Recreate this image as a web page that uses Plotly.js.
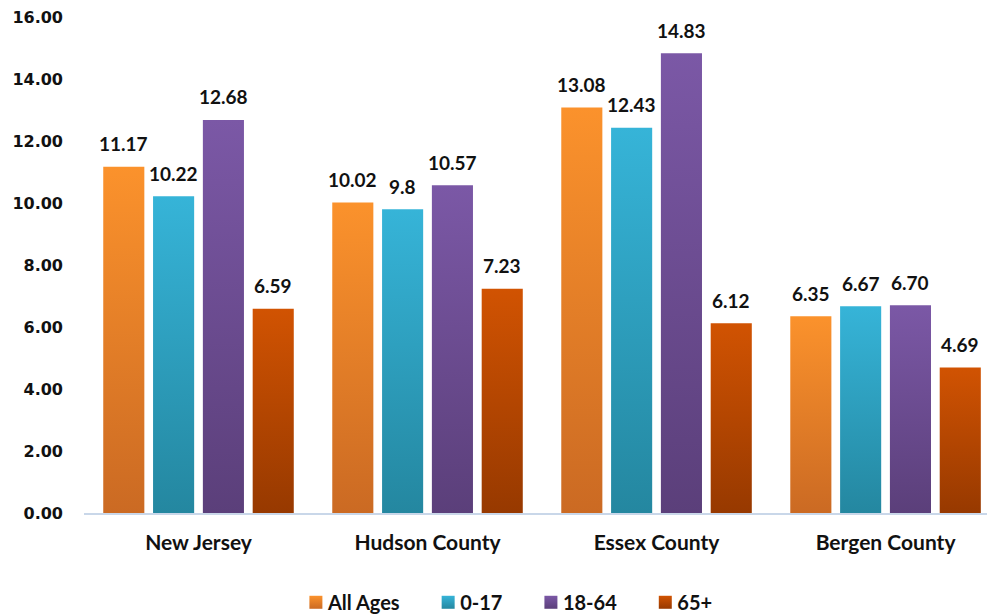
<!DOCTYPE html>
<html>
<head>
<meta charset="utf-8">
<script src="https://cdn.plot.ly/plotly-3.0.1.min.js"></script>
<style>html,body{margin:0;padding:0;background:#fff;}#chart{width:987px;height:616px;}</style>
</head>
<body>
<div id="chart"></div>
<script>
const categories = ["New Jersey", "Hudson County", "Essex County", "Bergen County"];
const seriesNames = ["All Ages", "0-17", "18-64", "65+"];
const allAges = [11.17, 10.02, 13.08, 6.35];
const age0to17 = [10.22, 9.8, 12.43, 6.67];
const age18to64 = [12.68, 10.57, 14.83, 6.70];
const age65plus = [6.59, 7.23, 6.12, 4.69];
const labelsAllAges = ["11.17", "10.02", "13.08", "6.35"];
const labels0to17 = ["10.22", "9.8", "12.43", "6.67"];
const labels18to64 = ["12.68", "10.57", "14.83", "6.70"];
const labels65plus = ["6.59", "7.23", "6.12", "4.69"];
const yTicks = [0, 2, 4, 6, 8, 10, 12, 14, 16];

const seriesValues = [allAges, age0to17, age18to64, age65plus];
const seriesLabels = [labelsAllAges, labels0to17, labels18to64, labels65plus];
const topColors = ["#FB922C", "#36B4D8", "#7B58A6", "#D15302"];
const bottomColors = ["#CB6A23", "#2487A0", "#5B3F7A", "#973900"];

const bargap = 0.13, bargroupgap = 0.175;
const slot = (1 - bargap) / seriesNames.length;

const traces = seriesNames.map((n, i) => ({
  type: "bar",
  name: n,
  x: categories,
  y: seriesValues[i],
  marker: {color: topColors[i], line: {width: 0}},
  hoverinfo: "skip"
}));

const annotations = [];
seriesNames.forEach((n, i) => {
  categories.forEach((c, j) => {
    annotations.push({
      x: j + (i - 1.5) * slot,
      y: seriesValues[i][j],
      xref: "x", yref: "y",
      text: seriesLabels[i][j],
      showarrow: false,
      yanchor: "middle",
      yshift: 23,
      font: {family: "Lato, 'Open Sans', sans-serif", size: 19, color: "#111", weight: "bold"}
    });
  });
});

const layout = {
  width: 987, height: 616,
  margin: {l: 84, r: 0, t: 17, b: 103, autoexpand: false},
  paper_bgcolor: "#fff", plot_bgcolor: "#fff",
  barmode: "group",
  bargap: bargap, bargroupgap: bargroupgap,
  showlegend: true,
  legend: {
    orientation: "h", x: 0.473, xanchor: "center", y: -0.18, yanchor: "middle",
    font: {family: "Lato, sans-serif", size: 20, color: "#111", weight: "bold"},
    traceorder: "normal", itemwidth: 30
  },
  xaxis: {
    type: "category",
    range: [-0.5, 3.443],
    showgrid: false, zeroline: false,
    showline: true, linecolor: "#C9D7E9", linewidth: 1.5,
    ticks: "", ticklabelstandoff: 10,
    tickfont: {family: "Lato, sans-serif", size: 21, color: "#111", weight: "bold"},
    fixedrange: true
  },
  yaxis: {
    range: [0, 16],
    tickvals: yTicks,
    tickformat: ".2f",
    showgrid: false, zeroline: false, showline: false,
    ticks: "", ticklabelstandoff: 20,
    tickfont: {family: "'DejaVu Sans', sans-serif", size: 16, color: "#111", weight: "bold"},
    fixedrange: true
  },
  annotations: annotations
};

Plotly.newPlot("chart", traces, layout, {displayModeBar: false, staticPlot: true}).then(gd => {
  const svg = gd.querySelector("svg.main-svg");
  const ns = "http://www.w3.org/2000/svg";
  let defs = svg.querySelector("defs");
  if (!defs) { defs = document.createElementNS(ns, "defs"); svg.insertBefore(defs, svg.firstChild); }
  topColors.forEach((c, i) => {
    const g = document.createElementNS(ns, "linearGradient");
    g.setAttribute("id", "grad" + i);
    g.setAttribute("x1", "0"); g.setAttribute("y1", "0");
    g.setAttribute("x2", "0"); g.setAttribute("y2", "1");
    const s1 = document.createElementNS(ns, "stop");
    s1.setAttribute("offset", "0"); s1.setAttribute("stop-color", c);
    const s2 = document.createElementNS(ns, "stop");
    s2.setAttribute("offset", "1"); s2.setAttribute("stop-color", bottomColors[i]);
    g.appendChild(s1); g.appendChild(s2);
    defs.appendChild(g);
  });
  gd.querySelectorAll(".barlayer .trace.bars").forEach((t, i) => {
    t.querySelectorAll("path").forEach(p => { p.style.fill = "url(#grad" + i + ")"; });
  });
  const legend = gd.querySelector(".legend");
  const sb = legend.querySelector(".scrollbox");
  if (sb) sb.removeAttribute("clip-path");
  const lt = legend.getAttribute("transform") || "";
  const lm = /translate\(([-\d.]+)[ ,]*([-\d.]*)\)/.exec(lt);
  const lx = lm ? parseFloat(lm[1]) : 0;
  const items = Array.from(legend.querySelectorAll(".traces"));
  const textX = 32, afterText = 42, symStart = 14;
  let pos = 0; const xs = []; let endX = 0;
  items.forEach((t, i) => {
    t.querySelectorAll(".legendpoints path").forEach(p => { p.style.fill = "url(#grad" + i + ")"; p.setAttribute("d", "M6.5,6.5H-6.5V-6.5H6.5Z"); });
    const txt = t.querySelector("text.legendtext");
    txt.setAttribute("x", textX);
    const w = txt.getComputedTextLength();
    xs.push(pos);
    endX = pos + textX + w;
    pos = pos + textX + w + afterText - symStart + 0.5;
  });
  const span = endX - symStart;
  const desiredStart = 511 - span / 2;
  const delta = desiredStart - lx - symStart;
  items.forEach((t, i) => {
    const tr = t.getAttribute("transform") || "";
    const m = /translate\(([-\d.]+)[ ,]*([-\d.]*)\)/.exec(tr);
    const y = m && m[2] !== "" ? parseFloat(m[2]) : 0;
    t.setAttribute("transform", "translate(" + (xs[i] + delta) + "," + y + ")");
  });
  const bg = legend.querySelector("rect.bg");
  if (bg) bg.style.display = "none";
});
</script>
</body>
</html>
